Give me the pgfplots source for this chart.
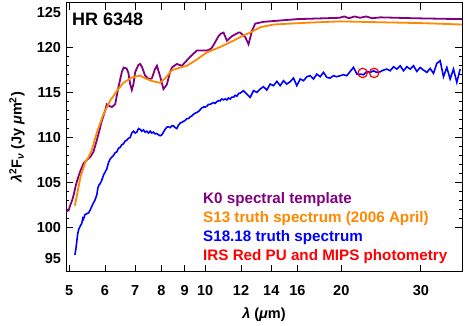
\documentclass[border=0pt]{standalone}
\usepackage{fontspec}
\setmainfont{Liberation Sans}
\usepackage{pgfplots}
\pgfplotsset{compat=1.18}
\definecolor{kpurple}{RGB}{128,0,128}
\definecolor{sorange}{RGB}{255,136,0}
\definecolor{sblue}{RGB}{0,0,255}
\definecolor{ired}{RGB}{255,0,0}
\newcommand{\tickfont}{\bfseries\fontsize{14.5}{16}\selectfont}
\newcommand{\legfont}{\bfseries\fontsize{15.2}{17}\selectfont}
\begin{document}
\begin{tikzpicture}
\useasboundingbox (-66pt,-54pt) rectangle (405pt,272pt);
\begin{axis}[
  at={(0pt,0pt)}, anchor=south west,
  width=396pt, height=269pt, scale only axis,
  xmode=log, xmin=4.92, xmax=37, ymin=95, ymax=125,
  xtick={5,6,7,8,9,10,12,14,16,20,30},
  xticklabels={5,6,7,8,9,10,12,14,16,20,30},
  xminorticks=false,
  ytick={100,105,110,115,120},
  minor y tick num=4,
  extra y ticks={96.55,123.9},
  extra y tick labels={95,125},
  extra y tick style={major tick length=0pt},
  major tick length=7pt, minor tick length=3.5pt,
  tick style={line width=0.9pt, black},
  axis line style={line width=1pt},
  tick label style={font=\tickfont},
  /pgf/number format/assume math mode=true,
  xticklabel style={yshift=-10pt},
  yticklabel style={xshift=-1.5pt},
]
% K0 spectral template
\addplot[kpurple, line width=1.8pt] coordinates {
 (4.92,101.7) (4.99,101.9) (5.014,102.3) (5.077,103.0) (5.122,103.7) (5.163,104.5)
 (5.208,105.2) (5.254,105.8) (5.297,106.3) (5.378,107.1) (5.47,107.5) (5.564,107.8)
 (5.658,108.4) (5.757,109.7) (5.834,110.8) (5.90,111.8) (6.006,113.0) (6.058,113.7)
 (6.14,113.5) (6.215,113.4) (6.32,113.7) (6.427,115.6) (6.539,117.3) (6.60,117.8)
 (6.70,117.7) (6.763,117.2) (6.82,116.0) (6.881,115.3) (6.94,116.0) (7.0,117.3)
 (7.117,118.1) (7.18,118.2) (7.241,117.9) (7.364,116.9) (7.5,116.5) (7.62,116.6)
 (7.74,117.6) (7.82,118.0) (7.95,116.8) (8.084,115.4) (8.224,115.9) (8.35,117.2)
 (8.437,117.8) (8.655,118.2) (8.878,118.0) (9.03,118.4) (9.262,119.0) (9.583,119.7)
 (10.09,119.7) (10.3,119.9) (10.43,120.3) (10.70,121.3) (10.85,121.6) (10.98,121.7)
 (11.17,120.8) (11.46,121.3) (11.85,121.7) (11.95,121.7) (12.26,121.2) (12.47,120.4)
 (12.69,121.9) (12.9,122.7) (13.46,122.9) (15.96,123.2) (19.8,123.35) (20.3,123.5)
 (20.8,123.3) (21.4,123.5) (22.0,123.35) (22.7,123.5) (23.4,123.3) (24.41,123.4)
 (28.9,123.3) (37.0,123.2)
};
% S13 truth spectrum
\addplot[sorange, line width=1.8pt] coordinates {
 (5.147,102.4) (5.208,103.7) (5.254,104.7) (5.297,105.6) (5.335,106.1) (5.423,107.2)
 (5.517,107.8) (5.612,108.6) (5.707,109.9) (5.78,110.8) (5.954,112.6) (6.161,114.1)
 (6.375,115.2) (6.593,116.1) (6.881,116.7) (7.179,116.9) (7.364,116.6) (7.62,116.3)
 (7.95,116.1) (8.154,116.6) (8.437,117.5) (8.802,117.8) (9.108,118.0) (9.583,118.7)
 (10.09,119.5) (10.8,120.1) (11.55,120.8) (12.06,121.3) (12.58,121.7) (13.24,122.3)
 (14.17,122.6) (16.79,122.8) (19.9,122.95) (22.04,122.9) (30.4,122.75) (37.0,122.6)
};
% S18.18 truth spectrum
\addplot[sblue, line width=1.6pt] coordinates {
 (5.147,96.9) (5.175,97.6) (5.198,98.4) (5.22,99.2) (5.245,99.7) (5.287,100.1)
 (5.33,100.4) (5.36,101.0) (5.378,100.9) (5.42,101.4) (5.470,101.5) (5.52,101.6)
 (5.564,101.9) (5.62,102.4) (5.659,102.7) (5.70,103.0) (5.756,103.6) (5.79,104.4)
 (5.82,104.7) (5.855,104.85) (5.90,105.2) (5.955,105.8) (6.00,106.1) (6.057,106.5)
 (6.11,107.2) (6.161,107.6) (6.21,107.8) (6.267,108.0) (6.32,108.3) (6.374,108.4)
 (6.43,108.8) (6.483,108.9) (6.54,109.2) (6.594,109.3) (6.65,109.6) (6.707,109.7)
 (6.76,109.9) (6.822,110.0) (6.88,110.5) (6.939,110.7) (7.00,110.5) (7.058,110.6)
 (7.12,111.0) (7.179,110.9) (7.24,110.7) (7.302,110.85) (7.36,110.6) (7.427,110.7)
 (7.49,110.5) (7.554,110.7) (7.62,110.5) (7.684,110.6) (7.75,110.4) (7.815,110.45)
 (7.88,110.3) (7.949,110.2) (8.02,110.3) (8.085,110.6) (8.15,110.9) (8.224,111.15)
 (8.29,111.2) (8.365,111.1) (8.44,111.3) (8.508,111.3) (8.58,111.1) (8.654,111.0)
 (8.73,111.4) (8.802,111.6) (8.88,111.7) (8.953,111.8) (9.03,111.9) (9.106,112.1)
 (9.18,112.1) (9.262,112.3) (9.34,112.4) (9.421,112.6) (9.50,112.7) (9.582,112.8)
 (9.66,112.9) (9.746,113.1) (9.83,113.3) (9.913,113.4) (10.0,113.4) (10.083,113.5)
 (10.17,113.7) (10.256,113.7) (10.34,113.8) (10.431,113.9) (10.52,113.8) (10.610,114.0)
 (10.70,114.1) (10.792,114.1) (10.88,114.3) (10.977,114.2) (11.07,114.3) (11.165,114.2)
 (11.26,114.4) (11.356,114.3) (11.45,114.5) (11.551,114.5) (11.65,114.7) (11.749,114.6)
 (11.85,114.9) (11.95,114.95) (12.155,115.22) (12.363,114.85) (12.575,114.48)
 (12.790,115.22) (13.009,115.03) (13.232,115.41) (13.459,115.67) (13.689,115.3)
 (13.924,115.96) (14.162,115.78) (14.405,116.26) (14.651,115.78) (14.902,116.33)
 (15.157,115.96) (15.417,116.22) (15.681,116.63) (15.949,115.78) (16.222,116.52)
 (16.500,116.33) (16.783,116.78) (17.070,116.89) (17.362,116.52) (17.660,117.07)
 (17.962,116.78) (18.270,117.26) (18.583,116.7) (18.901,116.63) (19.225,116.89)
 (19.554,116.78) (19.889,116.89) (20.229,117.0) (20.576,116.89) (20.928,117.37)
 (21.287,117.81) (21.651,117.07) (22.022,117.07) (22.399,117.0) (22.783,117.37)
 (23.173,117.26) (23.570,117.44) (23.974,117.26) (24.384,117.33) (24.802,117.52)
 (25.227,117.63) (25.659,117.44) (26.098,117.89) (26.545,117.63) (27.000,118.0)
 (27.462,117.44) (27.932,117.89) (28.411,117.63) (28.897,118.0) (29.392,117.37)
 (29.896,117.81) (30.408,117.52) (30.928,117.26) (31.458,117.7) (31.997,117.15)
 (32.545,118.26) (33.102,118.56) (33.669,116.78) (34.246,117.81) (34.832,116.52)
 (35.429,117.63) (36.035,116.15) (36.652,117.63)
};
% IRS Red PU and MIPS photometry
\addplot[only marks, ired, mark=o, mark size=4.7pt, mark options={line width=1.2pt}]
  coordinates {(22.3,117.2) (23.65,117.2)};
\end{axis}
% titles, labels and coloured legend text (axis box spans 0..396pt x 0..269pt)
\node[anchor=west, inner sep=0pt, font=\bfseries\fontsize{18}{21}\selectfont]
  at (6pt,253pt) {HR 6348};
\node[anchor=west, inner sep=0pt, text=kpurple, font=\legfont]
  at (137pt,72pt) {K0 spectral template};
\node[anchor=west, inner sep=0pt, text=sorange, font=\legfont]
  at (137pt,53pt) {S13 truth spectrum (2006 April)};
\node[anchor=west, inner sep=0pt, text=sblue, font=\legfont]
  at (137pt,34pt) {S18.18 truth spectrum};
\node[anchor=west, inner sep=0pt, text=ired, font=\legfont]
  at (137pt,15pt) {IRS Red PU and MIPS photometry};
\node[font=\tickfont] at (198pt,-43pt) {\textit{λ} (\textit{μ}m)};
\node[font=\tickfont, rotate=90] at (-49pt,134.5pt)
  {\textit{λ}\textsuperscript{2}F\textsubscript{\textit{ν}} (Jy \textit{μ}m\textsuperscript{2})};
\end{tikzpicture}
\end{document}
